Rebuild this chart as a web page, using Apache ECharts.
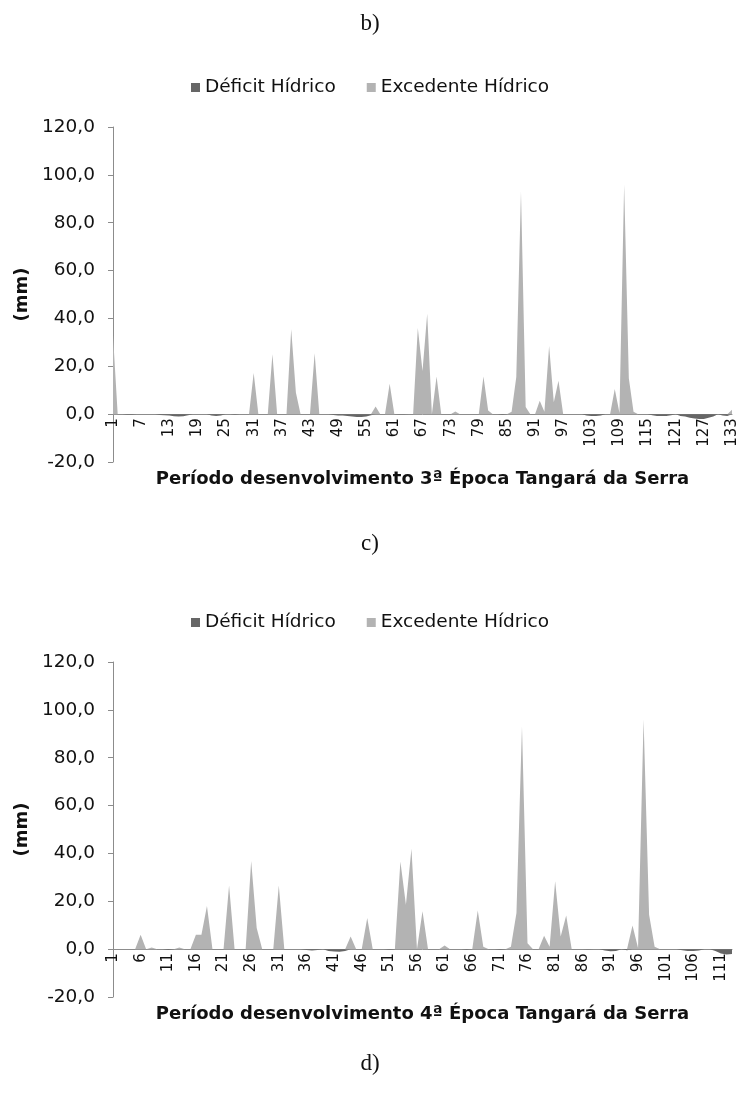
<!DOCTYPE html>
<html>
<head>
<meta charset="utf-8">
<script src="https://cdn.jsdelivr.net/npm/echarts@6/dist/echarts.min.js"></script>
<style>
html,body{margin:0;padding:0;background:#fff;}
#chart{width:740px;height:1106px;}
</style>
</head>
<body>
<div id="chart"></div>
<script>
// ---- Data ----
const seriesNames = ['Déficit Hídrico', 'Excedente Hídrico'];
const panelLabels = ['b)', 'c)', 'd)'];
const xTitles = ['Período desenvolvimento 3ª Época Tangará da Serra',
                 'Período desenvolvimento 4ª Época Tangará da Serra'];
const yTitle = '(mm)';
const yTicks = { min: -20, max: 120, interval: 20 };

// Panel 1: days 1..133
const excedente1 = [
  33,0,0,0,0,0,0,0,0,0,
  0,0,0,0,0,0,0,0,0,0,
  0,0,0,0,0,0,0,0,0,0,
  17.2,0,0,0,25,0,0,0,35.5,9,
  0,0,0,25.5,0,0,0,0,0,0,
  0,0,0,0,0,0,3.2,0,0,12.7,
  0,0,0,0,0,36,18,42,0,15.7,
  0,0,0,1.1,0,0,0,0,0,15.7,
  1.5,0,0,0,0,1,15.5,93,3,0,
  0,5.6,1,28.5,5,14,0,0,0,0,
  0,0,0,0,0,0,0,10.5,0.5,96,
  15,1,0,0,0,0,0,0,0,0,
  0,0,0,0,0,0,0,0,0,0,
  0,0,1.8
];
const deficit1 = [
  0,0,0,-0.3,-0.3,0,0,0,0,0,
  -0.4,-0.5,-0.6,-0.9,-1,-0.9,-0.5,0,0,0,
  0,-0.6,-0.8,-0.6,0,0,-0.3,0,0,0,
  0,0,0,0,0,0,0,0,0,0,
  0,0,0,0,0,0,0,-0.4,-0.6,-0.6,
  -0.8,-1,-1.2,-1.2,-1,-0.5,0,0,0,0,
  0,-0.2,-0.2,0,0,0,0,0,0,0,
  0,0,0,0,0,0,0,0,0,0,
  0,0,0,-0.3,0,0,0,0,0,0,
  0,0,0,0,0,0,0,0,0,0,
  0,-0.6,-0.8,-0.8,-0.6,0,0,0,0,0,
  0,0,0,0,0,-0.5,-0.8,-0.8,-0.8,-0.5,
  0,-0.8,-1,-1.5,-1.8,-2,-2,-1.5,-1,0,
  -0.6,-0.8,0
];

// Panel 2: days 1..113
const excedente2 = [
  0,0,0,0,0,6,0,0.7,0,0,
  0,0,0.7,0,0,6,6,18,0,0,
  0,26.6,0,0,0,36.8,8.8,0,0,0,
  26.6,0,0,0,0,0,0,0,0,0,
  0,0,0,5.3,0,0,13,0,0,0,
  0,0,36.6,18.6,42,0,15.8,0,0,0,
  1.5,0,0,0,0,0,16.2,1,0,0,
  0,0,1,15.1,93,2.5,0,0,5.6,1,
  28.4,5.3,14.1,0,0,0,0,0,0,0,
  0,0,0,0,9.9,0.5,96,14.4,1,0,
  0,0,0,0,0,0,0,0,0,0,
  0,0,0
];
const deficit2 = [
  0,0,0,0,0,0,0,0,0,0,
  -0.4,0,0,0,0,0,0,0,0,0,
  0,0,0,0,0,0,0,0,0,0,
  0,0,0,0,0,-0.4,-0.6,-0.4,0,-0.8,
  -1,-1.1,-0.8,0,0,0,0,0,0,0,
  -0.3,0,0,0,0,0,0,0,0,0,
  0,0,0,0,-0.3,0,0,0,0,0,
  -0.3,0,0,0,0,0,0,0,0,0,
  0,0,0,0,0,0,-0.2,0,0,-0.6,
  -0.9,-0.8,0,-0.5,0,0,0,0,0,0,
  0,0,0,-0.5,-0.8,-0.8,-0.6,0,0,-0.8,
  -1.8,-2.2,-2
];

const categories1 = excedente1.map((_, i) => String(i + 1));
const categories2 = excedente2.map((_, i) => String(i + 1));

// ---- Style ----
const FONT = '"DejaVu Sans", "Liberation Sans", Arial, sans-serif';
const C_DEF = '#666666';
const C_EXC = '#b3b3b3';
const AXIS_C = '#8c8c8c';
const TXT = '#111111';
const GRID_L = 113, GRID_R = 8, GRID_H = 335, GRID_TOPS = [127, 662];
// x axis sits on the zero line: lift it from the grid bottom by the height of the negative range
const ZERO_LIFT = GRID_H * (0 - yTicks.min) / (yTicks.max - yTicks.min);

const chart = echarts.init(document.getElementById('chart'), null, { renderer: 'canvas' });

function xAxisDef(gridIndex, cats, interval) {
  return {
    type: 'category', gridIndex, data: cats, boundaryGap: false,
    position: 'bottom', offset: -ZERO_LIFT,
    axisLine: { onZero: false, lineStyle: { color: AXIS_C, width: 1 } },
    axisTick: { show: false },
    axisLabel: { interval, rotate: 90, margin: 4, fontFamily: FONT, fontSize: 15, color: TXT }
  };
}
function yAxisDef(gridIndex) {
  return {
    type: 'value', gridIndex, min: yTicks.min, max: yTicks.max, interval: yTicks.interval,
    splitLine: { show: false },
    axisLine: { show: true, lineStyle: { color: AXIS_C, width: 1 } },
    axisTick: { show: true, inside: false, length: 5, lineStyle: { color: AXIS_C } },
    axisLabel: { margin: 18, fontFamily: FONT, fontSize: 18.5, color: TXT,
      formatter: v => v.toFixed(1).replace('.', ',') },
    name: yTitle, nameLocation: 'middle', nameGap: 70, nameRotate: 90,
    nameTextStyle: { fontFamily: FONT, fontSize: 18, fontWeight: 'bold', color: TXT }
  };
}
function areaSeries(name, data, idx, color) {
  return {
    name, type: 'line', xAxisIndex: idx, yAxisIndex: idx, data,
    symbol: 'none', smooth: false, color,
    lineStyle: { width: 0, color }, areaStyle: { color, opacity: 1 },
    emphasis: { disabled: true }, silent: true
  };
}
function legendDef(top) {
  return {
    top, left: 'center', icon: 'rect', itemWidth: 9, itemHeight: 9, itemGap: 31,
    textStyle: { fontFamily: FONT, fontSize: 18.5, color: TXT },
    data: seriesNames, selectedMode: false
  };
}

const plotCenterX = GRID_L + (740 - GRID_L - GRID_R) / 2;
const graphics = panelLabels.map((t, i) => ({
  type: 'text', left: 'center', top: [12, 532, 1052][i],
  style: { text: t, font: '23px "Liberation Serif", "Times New Roman", serif', fill: TXT }
})).concat(xTitles.map((t, i) => ({
  type: 'text', x: plotCenterX, y: [479, 1014][i],
  style: { text: t, fontFamily: FONT, fontSize: 18, fontWeight: 'bold', fill: TXT,
           align: 'center', verticalAlign: 'middle' }
})));

chart.setOption({
  animation: false,
  backgroundColor: '#fff',
  legend: [legendDef(73), legendDef(608)],
  grid: GRID_TOPS.map(top => ({ left: GRID_L, right: GRID_R, top, height: GRID_H })),
  xAxis: [xAxisDef(0, categories1, 5), xAxisDef(1, categories2, 4)],
  yAxis: [yAxisDef(0), yAxisDef(1)],
  series: [
    areaSeries(seriesNames[0], deficit1, 0, C_DEF),
    areaSeries(seriesNames[1], excedente1, 0, C_EXC),
    areaSeries(seriesNames[0], deficit2, 1, C_DEF),
    areaSeries(seriesNames[1], excedente2, 1, C_EXC)
  ],
  graphic: graphics
});
</script>
</body>
</html>
